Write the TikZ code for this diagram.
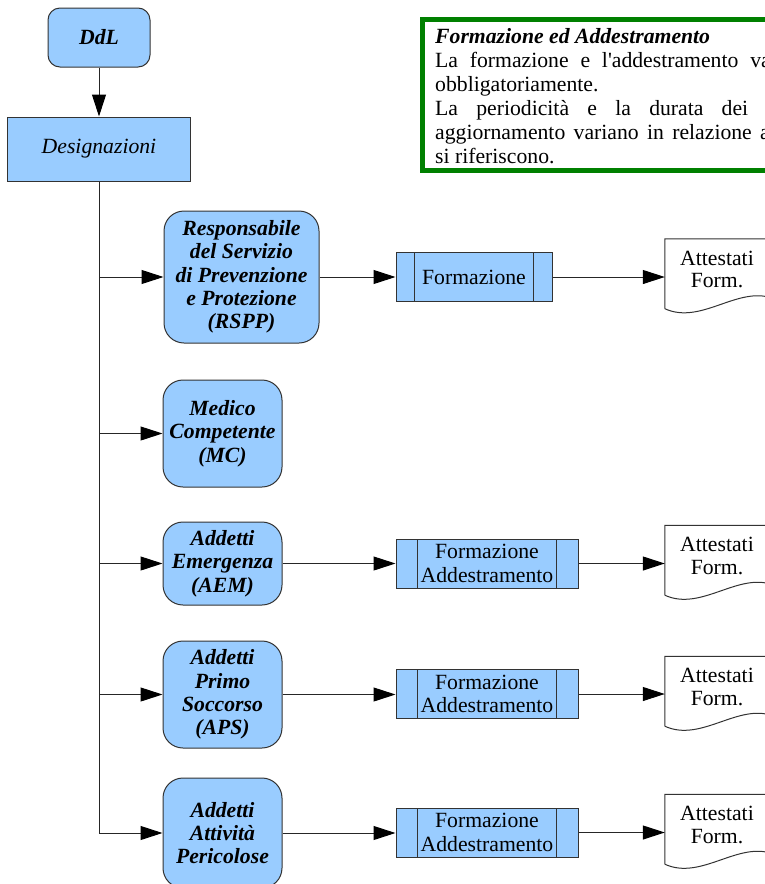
\documentclass[tikz,border=0pt]{standalone}
\usepackage{fontspec}
\setmainfont{Liberation Serif}
\usetikzlibrary{arrows.meta}
\definecolor{boxblue}{HTML}{99CCFF}
\definecolor{notegreen}{HTML}{008000}

\begin{document}
\begin{tikzpicture}[x=1pt,y=-1pt,
  every node/.style={inner sep=0pt},
  txt/.style={font=\fontsize{21.7}{23.5}\selectfont},
  rolebox/.style={draw=black!80, line width=1pt, fill=boxblue, rounded corners=20pt,
    align=center, font=\fontsize{21.7}{23.3}\selectfont\bfseries\itshape},
  plainbox/.style={draw=black!80, line width=1pt, fill=boxblue, align=center,
    font=\fontsize{21.7}{23.5}\selectfont\itshape},
  procbox/.style={draw=black!80, line width=1pt, fill=boxblue, align=center,
    minimum height=49pt, font=\fontsize{21.7}{23.5}\selectfont,
    path picture={\draw[black!80, line width=1pt]
      ([xshift=#1]path picture bounding box.north west) -- ([xshift=#1]path picture bounding box.south west)
      ([xshift=-#1]path picture bounding box.north east) -- ([xshift=-#1]path picture bounding box.south east);}},
  docnode/.style={minimum width=104pt, minimum height=61pt, align=center,
    font=\fontsize{21.7}{22.5}\selectfont},
  docline/.style={draw=black!80, line width=1pt},
  linkline/.style={draw=black!85, line width=1pt},
  arr/.style={linkline, -{Triangle[length=22pt,width=14pt,color=black]}},
]
% page frame
\path[use as bounding box] (0,0) rectangle (765,884);
\clip (0,0) rectangle (765,884);

% top of the chain
\node[rolebox, minimum width=102pt, minimum height=59pt, rounded corners=12pt] (ddl) at (99,37.5) {DdL};
\node[plainbox, minimum width=183pt, minimum height=64pt] (desig) at (99,149) {Designazioni};

% designated roles
\node[rolebox, minimum width=155pt, minimum height=132pt] (rspp) at (241.5,277)
  {Responsabile\\del Servizio\\di Prevenzione\\e Protezione\\(RSPP)};
\node[rolebox, minimum width=119pt, minimum height=107pt] (mc) at (222.5,433.5)
  {Medico\\Competente\\(MC)};
\node[rolebox, minimum width=119pt, minimum height=83pt] (aem) at (222.5,563.5)
  {Addetti\\Emergenza\\(AEM)};
\node[rolebox, minimum width=119pt, minimum height=107pt] (aps) at (222.5,694.5)
  {Addetti\\Primo\\Soccorso\\(APS)};
\node[rolebox, minimum width=119pt, minimum height=110pt] (aap) at (222.5,833)
  {Addetti\\Attività\\Pericolose};

% training processes
\node[procbox=18.5, minimum width=156pt] (f1) at (474,277) {Formazione};
\node[procbox=21.5, minimum width=182pt] (f2) at (487,563.5) {Formazione\\Addestramento};
\node[procbox=21.5, minimum width=182pt] (f3) at (487,694) {Formazione\\Addestramento};
\node[procbox=21.5, minimum width=182pt] (f4) at (487,832.5) {Formazione\\Addestramento};

% certificates (document shapes)
\node[docnode] (d1) at (717,269.5) {Attestati\\Form.};
\node[docnode] (d2) at (717,556) {Attestati\\Form.};
\node[docnode] (d3) at (717,687) {Attestati\\Form.};
\node[docnode] (d4) at (717,825) {Attestati\\Form.};
\foreach \d in {d1,d2,d3,d4}
  \draw[docline] ([yshift=-8.5pt]\d.south west) -- (\d.north west) -- (\d.north east)
    -- ([yshift=3pt]\d.south east)
    .. controls ([xshift=-34pt,yshift=12pt]\d.south east) and ([xshift=35pt,yshift=-24.5pt]\d.south west)
    .. ([yshift=-8.5pt]\d.south west);

% connectors
\draw[arr] (ddl.south) -- (desig.north);
\coordinate (trunkend) at (desig.south |- aap.west);
\draw[linkline] (desig.south) -- (trunkend);
\foreach \n in {rspp,mc,aem,aps,aap}
  \draw[arr] (desig.south |- \n.west) -- (\n.west);
\draw[arr] (rspp.east) -- (rspp.east -| f1.west);
\draw[arr] (aem.east) -- (aem.east -| f2.west);
\draw[arr] (aps.east) -- (aps.east -| f3.west);
\draw[arr] (aap.east) -- (aap.east -| f4.west);
\draw[arr] (f1.east) -- (f1.east -| d1.west);
\draw[arr] (f2.east) -- (f2.east -| d2.west);
\draw[arr] (f3.east) -- (f3.east -| d3.west);
\draw[arr] (f4.east) -- (f4.east -| d4.west);

% note on training
\node[draw=notegreen, line width=5pt, minimum width=400pt, minimum height=151pt, anchor=north west] (note) at (420,17) {};
\node[txt, font=\fontsize{21.7}{23.5}\selectfont\bfseries\itshape, anchor=base west] (nt) at (435,43) {Formazione ed Addestramento};
\node[txt, anchor=base west] (n1) at (435,67) {\hbox to 335.5pt{La\hfill formazione\hfill e\hfill l\textquotesingle addestramento\hfill va}};
\node[txt, anchor=base west] (n2) at (435,91) {obbligatoriamente.};
\node[txt, anchor=base west] (n3) at (435,115) {\hbox to 313pt{La\hfill periodicità\hfill e\hfill la\hfill durata\hfill dei}};
\node[txt, anchor=base west] (n4) at (435,139) {\hbox to 334.6pt{aggiornamento\hfill variano\hfill in\hfill relazione\hfill a}};
\node[txt, anchor=base west] (n5) at (435,163) {si riferiscono.};
\end{tikzpicture}
\end{document}
